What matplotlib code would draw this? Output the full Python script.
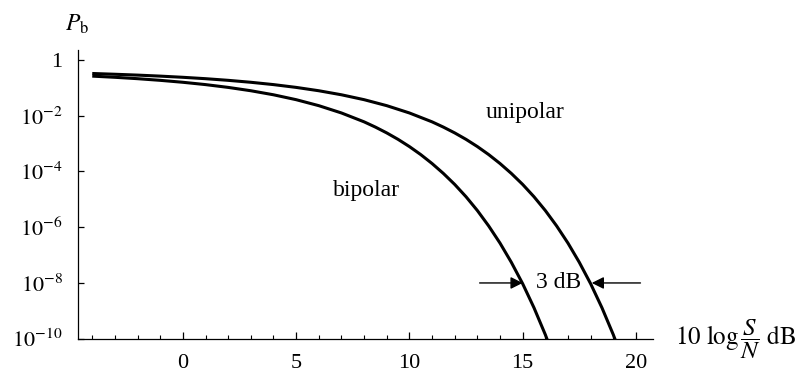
import numpy as np
import matplotlib
matplotlib.use('Agg')
import matplotlib.pyplot as plt
from matplotlib.ticker import FixedLocator, MultipleLocator

plt.rcParams['font.family'] = ['Liberation Serif', 'DejaVu Serif']
plt.rcParams['mathtext.fontset'] = 'stix'

##---datos (P_b vs 10 log S/N)

snr_bipolar = [-4, -3, -2, -1, 0, 1, 2, 3, 4, 5, 6, 7, 8, 8.5, 9, 9.5, 10, 10.5,
               11, 11.5, 12, 12.5, 13, 13.5, 14, 14.5, 15, 15.5, 16, 16.5]
pb_bipolar = [0.264, 0.2395, 0.2136, 0.1864, 0.1587, 0.131, 0.104, 0.0789, 0.0565,
              0.0377, 0.0230, 0.01258, 0.00604, 0.00391, 0.00242, 0.00142, 7.83e-4,
              4.04e-4, 1.93e-4, 8.5e-5, 3.43e-5, 1.24e-5, 3.97e-6, 1.11e-6, 2.69e-7,
              5.5e-8, 9.4e-9, 1.29e-9, 1.40e-10, 1.17e-11]

snr_unipolar = [-4, -3, -2, -1, 0, 1, 2, 3, 4, 5, 6, 7, 8, 9, 10, 11, 11.5, 12, 12.5,
                13, 13.5, 14, 14.5, 15, 15.5, 16, 16.5, 17, 17.5, 18, 18.5, 19, 19.5]
pb_unipolar = [0.328, 0.308, 0.287, 0.264, 0.2395, 0.2136, 0.1864, 0.1587, 0.131,
               0.104, 0.0789, 0.0565, 0.0377, 0.0230, 0.01258, 0.00604, 0.00391,
               0.00242, 0.00142, 7.83e-4, 4.04e-4, 1.93e-4, 8.5e-5, 3.43e-5, 1.24e-5,
               3.97e-6, 1.11e-6, 2.69e-7, 5.5e-8, 9.4e-9, 1.29e-9, 1.40e-10, 1.17e-11]

xticks = [0, 5, 10, 15, 20]
yticks = [1, 1e-2, 1e-4, 1e-6, 1e-8, 1e-10]
ylabels = ['1', r'$10^{-2}$', r'$10^{-4}$', r'$10^{-6}$', r'$10^{-8}$', r'$10^{-10}$']

# cruce a 1e-8 de cada curva
x_cross_bip = 15.0
x_cross_uni = 18.05
p_cross = 1e-8

fig = plt.figure(figsize=(8.03, 3.74), dpi=100)
ax = fig.add_axes([0.0971, 0.0944, 0.716, 0.772])

ax.plot(snr_bipolar, pb_bipolar, color='black', lw=2.2, solid_capstyle='butt')
ax.plot(snr_unipolar, pb_unipolar, color='black', lw=2.2, solid_capstyle='butt')

ax.set_yscale('log')
ax.set_xlim(-4.63, 20.75)
ax.set_ylim(1e-10, 10**0.36)

ax.spines['top'].set_visible(False)
ax.spines['right'].set_visible(False)
for s in ['left', 'bottom']:
    ax.spines[s].set_linewidth(0.9)

ax.xaxis.set_major_locator(FixedLocator(xticks))
ax.xaxis.set_minor_locator(MultipleLocator(1))
ax.yaxis.set_major_locator(FixedLocator(yticks))
ax.yaxis.set_minor_locator(FixedLocator([]))
ax.set_yticklabels(ylabels)
ax.tick_params(axis='x', which='major', direction='in', length=5, width=0.9,
               labelsize=16, pad=11)
ax.tick_params(axis='x', which='minor', direction='in', length=3, width=0.8)
ax.tick_params(axis='y', which='major', direction='in', length=4, width=0.9,
               labelsize=16, pad=11)

ax.text(15.1, 10**-1.9, 'unipolar', fontsize=17, ha='center', va='center')
ax.text(8.1, 10**-4.68, 'bipolar', fontsize=17, ha='center', va='center')
ax.text(16.6, p_cross, '3 dB', fontsize=17, ha='center', va='center')

ax.annotate('', xy=(x_cross_bip, p_cross), xytext=(13.1, p_cross),
            arrowprops=dict(arrowstyle='-|>', color='black', lw=1.0,
                            mutation_scale=18, shrinkA=0, shrinkB=0))
ax.annotate('', xy=(x_cross_uni, p_cross), xytext=(20.2, p_cross),
            arrowprops=dict(arrowstyle='-|>', color='black', lw=1.0,
                            mutation_scale=18, shrinkA=0, shrinkB=0))

fig.text(0.096, 0.935, r'$P_{\mathrm{b}}$', fontsize=17, ha='center', va='center')
fig.text(0.840, 0.092, r'$10\ \log\dfrac{S}{N}\ \mathrm{dB}$', fontsize=18,
         ha='left', va='center')

fig.savefig('out.png', dpi=100)
